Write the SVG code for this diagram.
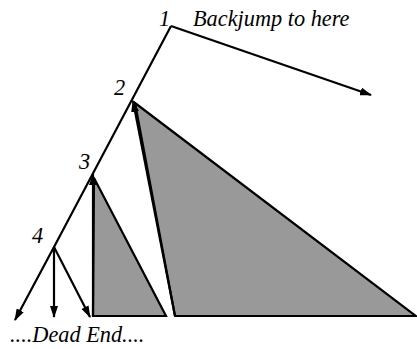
<svg xmlns="http://www.w3.org/2000/svg" width="417" height="349" viewBox="0 0 417 349">
<style>
.ln{stroke:#000;stroke-width:2.2;fill:none}
.tri{fill:#999;stroke:#000;stroke-width:2.2;stroke-linejoin:miter}
.t{font-family:"Liberation Serif","Times New Roman",serif;font-style:italic;font-size:22.3px;fill:#000}
</style>
<defs>
<marker id="ah" markerWidth="12" markerHeight="8" refX="11" refY="4" orient="auto" markerUnits="userSpaceOnUse">
<path d="M0,0 L12,4 L0,8 Z" fill="#000"/>
</marker>
</defs>
<g id="tri2"><polygon class="tri" points="135,103 416,316 175,316"/></g>
<g id="tri3"><polygon class="tri" points="94,178 166,316 93,316"/></g>
<g id="connectors">
<polyline class="ln" points="171,26 54,247 15,320" marker-end="url(#ah)"/>
<line class="ln" x1="171" y1="26" x2="371" y2="95" marker-end="url(#ah)"/>
<line class="ln" x1="175" y1="316" x2="133" y2="101" marker-end="url(#ah)"/>
<line class="ln" x1="93" y1="316" x2="93" y2="174" marker-end="url(#ah)"/>
<line class="ln" x1="54" y1="247" x2="54" y2="317" marker-end="url(#ah)"/>
<line class="ln" x1="54" y1="247" x2="90" y2="317" marker-end="url(#ah)"/>
</g>
<g id="n1"><text class="t" x="159" y="26">1</text><text class="t" x="193" y="26">Backjump to here</text></g>
<g id="n2"><text class="t" x="114" y="95">2</text></g>
<g id="n3"><text class="t" x="79" y="169">3</text></g>
<g id="n4"><text class="t" x="32" y="243">4</text></g>
<g id="dead"><text class="t" x="10" y="342">....Dead End....</text></g>
</svg>
